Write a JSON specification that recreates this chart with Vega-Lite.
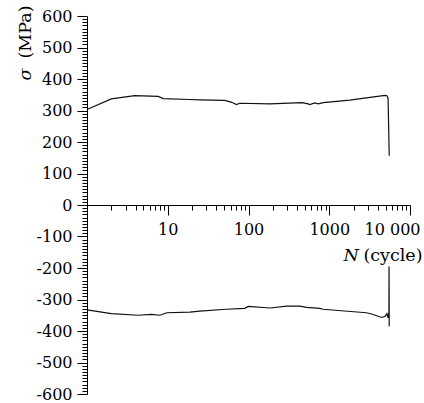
{
  "$schema": "https://vega.github.io/schema/vega-lite/v6.json",
  "autosize": {"type": "none"},
  "width": 323,
  "height": 378,
  "padding": {"left": 87, "top": 16, "right": 14, "bottom": 9},
  "background": "white",
  "config": {
    "view": {"stroke": null},
    "axis": {"domainColor": "#000", "tickColor": "#000", "labelColor": "#000", "titleColor": "#000", "labelFont": "DejaVu Serif", "titleFont": "DejaVu Serif", "labelFontSize": 16, "titleFontSize": 17.5, "titleFontWeight": "normal", "grid": false, "domainWidth": 1, "tickWidth": 1}
  },
  "data": {"values": [
    {"s": "T", "i": 1, "N": 1, "v": 303},
    {"s": "T", "i": 2, "N": 2.0, "v": 337},
    {"s": "T", "i": 3, "N": 3.9, "v": 347},
    {"s": "T", "i": 4, "N": 7.6, "v": 345},
    {"s": "T", "i": 5, "N": 8.8, "v": 338},
    {"s": "T", "i": 6, "N": 18.8, "v": 335},
    {"s": "T", "i": 7, "N": 25, "v": 334},
    {"s": "T", "i": 8, "N": 51, "v": 332},
    {"s": "T", "i": 9, "N": 62, "v": 326},
    {"s": "T", "i": 10, "N": 71, "v": 319},
    {"s": "T", "i": 11, "N": 78, "v": 323},
    {"s": "T", "i": 12, "N": 184, "v": 321},
    {"s": "T", "i": 13, "N": 460, "v": 325},
    {"s": "T", "i": 14, "N": 549, "v": 321},
    {"s": "T", "i": 15, "N": 573, "v": 319},
    {"s": "T", "i": 16, "N": 662, "v": 324},
    {"s": "T", "i": 17, "N": 730, "v": 321},
    {"s": "T", "i": 18, "N": 840, "v": 325},
    {"s": "T", "i": 19, "N": 1790, "v": 333},
    {"s": "T", "i": 20, "N": 2870, "v": 340},
    {"s": "T", "i": 21, "N": 4920, "v": 348},
    {"s": "T", "i": 22, "N": 5170, "v": 347},
    {"s": "T", "i": 23, "N": 5350, "v": 340},
    {"s": "T", "i": 24, "N": 5530, "v": 156},
    {"s": "C", "i": 1, "N": 1, "v": -333},
    {"s": "C", "i": 2, "N": 2.0, "v": -345},
    {"s": "C", "i": 3, "N": 4.3, "v": -350},
    {"s": "C", "i": 4, "N": 6.3, "v": -347},
    {"s": "C", "i": 5, "N": 8.0, "v": -350},
    {"s": "C", "i": 6, "N": 9.7, "v": -342},
    {"s": "C", "i": 7, "N": 18.8, "v": -340},
    {"s": "C", "i": 8, "N": 25, "v": -337},
    {"s": "C", "i": 9, "N": 53, "v": -331},
    {"s": "C", "i": 10, "N": 90, "v": -328},
    {"s": "C", "i": 11, "N": 99, "v": -322},
    {"s": "C", "i": 12, "N": 184, "v": -327},
    {"s": "C", "i": 13, "N": 297, "v": -321},
    {"s": "C", "i": 14, "N": 432, "v": -321},
    {"s": "C", "i": 15, "N": 524, "v": -325},
    {"s": "C", "i": 16, "N": 765, "v": -328},
    {"s": "C", "i": 17, "N": 840, "v": -331},
    {"s": "C", "i": 18, "N": 2870, "v": -342},
    {"s": "C", "i": 19, "N": 3340, "v": -346},
    {"s": "C", "i": 20, "N": 4470, "v": -357},
    {"s": "C", "i": 21, "N": 4920, "v": -353},
    {"s": "C", "i": 22, "N": 5170, "v": -345},
    {"s": "C", "i": 23, "N": 5350, "v": -358},
    {"s": "C", "i": 24, "N": 5480, "v": -340},
    {"s": "C", "i": 25, "N": 5500, "v": -195},
    {"s": "C", "i": 26, "N": 5530, "v": -385}
  ]},
  "resolve": {"axis": {"x": "independent", "y": "independent"}},
  "layer": [
    {
      "transform": [{"filter": "datum.s == 'T'"}],
      "mark": {"type": "line", "color": "#111", "strokeWidth": 1.2, "clip": false},
      "encoding": {
        "x": {"field": "N", "type": "quantitative", "scale": {"type": "log", "domain": [1, 10000], "nice": false},
          "axis": {"orient": "bottom", "offset": -189, "values": [10, 100, 1000, 10000], "tickSize": 10, "labelPadding": 6,
            "labelExpr": "datum.value == 10000 ? '10 000' : datum.value + ''",
            "labelOffset": {"condition": {"test": "datum.value == 10000", "value": -18}, "value": 0},
            "labelFlush": false, "labelOverlap": false,
            "title": "N", "titleFontStyle": "italic", "titleX": 256, "titleY": 55, "titleAlign": "left", "titleBaseline": "alphabetic", "titleAnchor": null}},
        "y": {"field": "v", "type": "quantitative", "scale": {"domain": [-600, 600], "nice": false, "zero": false},
          "axis": {"orient": "left", "values": [-600, -500, -400, -300, -200, -100, 0, 100, 200, 300, 400, 500, 600], "tickSize": 10, "labelPadding": 5,
            "labelExpr": "datum.value + ''", "labelFlush": false, "labelOverlap": false,
            "title": "σ", "titleFontStyle": "italic", "titleAngle": -90, "titleX": -62, "titleY": 64, "titleAlign": "left", "titleBaseline": "middle", "titleAnchor": null}},
        "order": {"field": "i", "type": "quantitative"}
      }
    },
    {
      "transform": [{"filter": "datum.s == 'C'"}],
      "mark": {"type": "line", "color": "#111", "strokeWidth": 1.2, "clip": false},
      "encoding": {
        "x": {"field": "N", "type": "quantitative", "scale": {"type": "log", "domain": [1, 10000], "nice": false},
          "axis": {"orient": "bottom", "offset": -189, "domain": false, "labels": false, "tickSize": 5,
            "values": [2, 3, 4, 5, 6, 7, 8, 9, 20, 30, 40, 50, 60, 70, 80, 90, 200, 300, 400, 500, 600, 700, 800, 900, 2000, 3000, 4000, 5000, 6000, 7000, 8000, 9000],
            "title": "(cycle)", "titleX": 335, "titleY": 55, "titleAlign": "right", "titleBaseline": "alphabetic", "titleAnchor": null}},
        "y": {"field": "v", "type": "quantitative", "scale": {"domain": [-600, 600], "nice": false, "zero": false},
          "axis": {"orient": "left", "domain": false, "labels": false, "tickSize": 5,
            "values": [-590, -580, -570, -560, -550, -540, -530, -520, -510, -490, -480, -470, -460, -450, -440, -430, -420, -410, -390, -380, -370, -360, -350, -340, -330, -320, -310, -290, -280, -270, -260, -250, -240, -230, -220, -210, -190, -180, -170, -160, -150, -140, -130, -120, -110, -90, -80, -70, -60, -50, -40, -30, -20, -10, 10, 20, 30, 40, 50, 60, 70, 80, 90, 110, 120, 130, 140, 150, 160, 170, 180, 190, 210, 220, 230, 240, 250, 260, 270, 280, 290, 310, 320, 330, 340, 350, 360, 370, 380, 390, 410, 420, 430, 440, 450, 460, 470, 480, 490, 510, 520, 530, 540, 550, 560, 570, 580, 590],
            "title": "(MPa)", "titleAngle": -90, "titleX": -62, "titleY": -11, "titleAlign": "right", "titleBaseline": "middle", "titleAnchor": null}},
        "order": {"field": "i", "type": "quantitative"}
      }
    }
  ]
}
